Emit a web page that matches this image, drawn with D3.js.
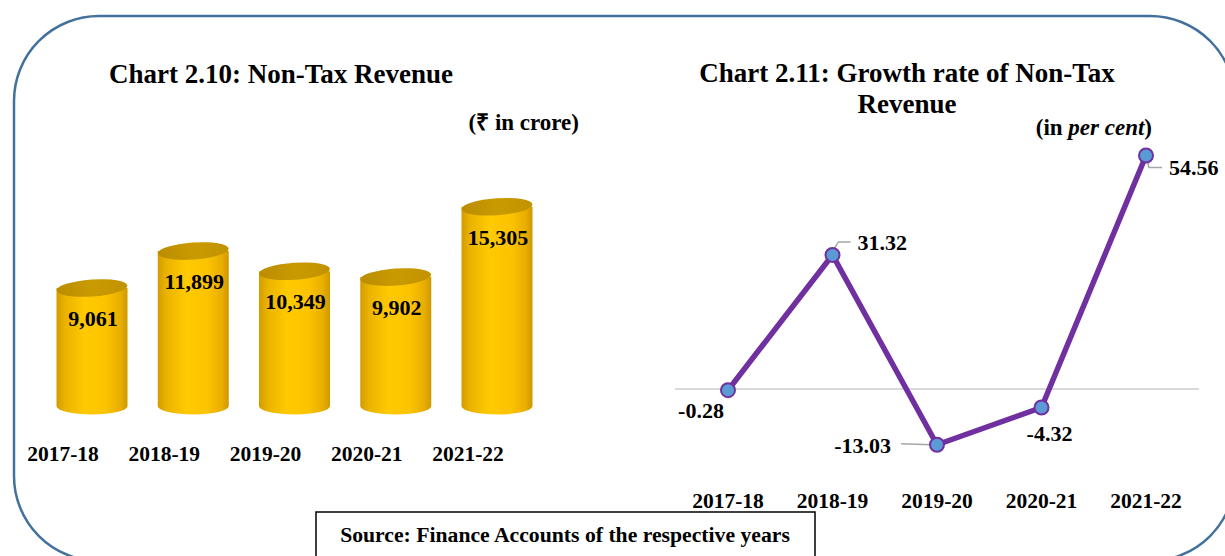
<!DOCTYPE html>
<html lang="en">
<head>
<meta charset="UTF-8">
<title>Non-Tax Revenue</title>
<script src="https://cdnjs.cloudflare.com/ajax/libs/d3/7.8.5/d3.min.js"></script>
<style>
	body { margin: 0; background: #fff; }
	svg text { font-family: "Liberation Serif", "Times New Roman", serif; font-weight: bold; fill: #000; }
</style>
</head>
<body>
<div id="container"></div>
<script>
	// data
	var years = ["2017-18", "2018-19", "2019-20", "2020-21", "2021-22"];
	var revenue = [9061, 11899, 10349, 9902, 15305];       // ₹ in crore
	var growth = [-0.28, 31.32, -13.03, -4.32, 54.56];     // per cent

	var width = 1225, height = 556;
	var svg = d3.select("#container").append("svg")
		.attr("width", width)
		.attr("height", height);

	// outer rounded frame
	svg.append("rect")
		.attr("x", 14).attr("y", 16)
		.attr("width", 1221).attr("height", 545)
		.attr("rx", 85).attr("ry", 85)
		.attr("fill", "none")
		.attr("stroke", "#41719c")
		.attr("stroke-width", 2.5);

	// ---------- Chart 2.10 : cylinders ----------
	var defs = svg.append("defs");
	var g1 = defs.append("linearGradient").attr("id", "cylBody")
		.attr("x1", "0%").attr("x2", "100%").attr("y1", "0%").attr("y2", "0%");
	[[0, "#d29c00"], [0.12, "#eab300"], [0.4, "#ffca00"], [0.7, "#fcc300"], [0.9, "#e8ae00"], [1, "#cf9800"]]
		.forEach(function(s){ g1.append("stop").attr("offset", s[0]).attr("stop-color", s[1]); });
	var g2 = defs.append("linearGradient").attr("id", "cylTop")
		.attr("x1", "0%").attr("x2", "100%").attr("y1", "0%").attr("y2", "0%");
	[[0, "#bb8c00"], [0.5, "#c99a00"], [1, "#c29300"]]
		.forEach(function(s){ g2.append("stop").attr("offset", s[0]).attr("stop-color", s[1]); });

	var x1 = d3.scalePoint().domain(years).range([92, 497]);
	var y1 = d3.scaleLinear().domain([0, 16000]).range([406, 406 - 16000 * 0.01302]);
	var rx = 35.5, ry = 8.5;

	svg.append("text")
		.attr("x", 281).attr("y", 83)
		.attr("text-anchor", "middle")
		.style("font-size", "27px")
		.text("Chart 2.10: Non-Tax Revenue");

	svg.append("text")
		.attr("x", 579).attr("y", 130)
		.attr("text-anchor", "end")
		.style("font-size", "23px")
		.text("(₹ in crore)");

	var cyl = svg.append("g").selectAll("g")
		.data(years.map(function(d, i){ return { year: d, value: revenue[i] }; }))
		.enter().append("g");

	cyl.append("path")
		.attr("fill", "url(#cylBody)")
		.attr("d", function(d){
			var cx = x1(d.year), top = y1(d.value), bot = y1(0);
			return "M" + (cx - rx) + "," + top +
				"L" + (cx - rx) + "," + bot +
				"A" + rx + "," + ry + " 0 0 0 " + (cx + rx) + "," + bot +
				"L" + (cx + rx) + "," + top + "Z";
		});

	cyl.append("ellipse")
		.attr("cx", function(d){ return x1(d.year); })
		.attr("cy", function(d){ return y1(d.value); })
		.attr("rx", rx).attr("ry", ry)
		.attr("transform", function(d){ return "rotate(-4," + x1(d.year) + "," + y1(d.value) + ")"; })
		.attr("fill", "url(#cylTop)");

	cyl.append("text")
		.attr("x", function(d){ return x1(d.year) + 1; })
		.attr("y", function(d){ return y1(d.value) + 38; })
		.attr("text-anchor", "middle")
		.style("font-size", "22px")
		.text(function(d){ return d3.format(",")(d.value); });

	svg.append("g").selectAll("text")
		.data(years).enter().append("text")
		.attr("x", function(d){ return x1(d) - 29; })
		.attr("y", 461)
		.attr("text-anchor", "middle")
		.style("font-size", "21.5px")
		.text(function(d){ return d; });

	// ---------- Chart 2.11 : growth line ----------
	var x2 = d3.scalePoint().domain(years).range([728, 1146]);
	var y2 = d3.scaleLinear().domain([-20, 60]).range([389 + 20 * 4.28, 389 - 60 * 4.28]);

	var t2 = svg.append("text")
		.attr("x", 907).attr("y", 82)
		.attr("text-anchor", "middle")
		.style("font-size", "27px");
	t2.append("tspan").attr("x", 907).text("Chart 2.11: Growth rate of Non-Tax");
	t2.append("tspan").attr("x", 907).attr("dy", 31).text("Revenue");

	var unit = svg.append("text")
		.attr("x", 1152).attr("y", 135)
		.attr("text-anchor", "end")
		.style("font-size", "23px");
	unit.append("tspan").text("(in ");
	unit.append("tspan").style("font-style", "italic").text("per cent");
	unit.append("tspan").text(")");

	// zero line
	svg.append("line")
		.attr("x1", 675).attr("x2", 1199)
		.attr("y1", y2(0)).attr("y2", y2(0))
		.attr("stroke", "#d9d9d9")
		.attr("stroke-width", 2);

	var pts = years.map(function(d, i){ return { year: d, value: growth[i] }; });

	svg.append("path")
		.datum(pts)
		.attr("fill", "none")
		.attr("stroke", "#7030a0")
		.attr("stroke-width", 5.5)
		.attr("stroke-linejoin", "round")
		.attr("d", d3.line()
			.x(function(d){ return x2(d.year); })
			.y(function(d){ return y2(d.value); }));

	// label placement: [dx, dy, anchor, leader points relative to marker]
	var labelPlace = [
		[-27, 28, "middle", null],
		[25, -5, "start", [[2, -7], [6, -13], [18, -13]]],
		[-46, 8, "end", [[-36, -1], [-5, 0]]],
		[8, 34, "middle", null],
		[23, 20, "start", [[1, 5], [3, 12], [16, 12]]]
	];

	var leader = d3.line();
	pts.forEach(function(d, i){
		var p = labelPlace[i];
		if (p[3]) {
			svg.append("path")
				.attr("fill", "none")
				.attr("stroke", "#a6a6a6")
				.attr("stroke-width", 1.5)
				.attr("d", leader(p[3].map(function(q){ return [x2(d.year) + q[0], y2(d.value) + q[1]]; })));
		}
	});

	svg.append("g").selectAll("circle")
		.data(pts).enter().append("circle")
		.attr("cx", function(d){ return x2(d.year); })
		.attr("cy", function(d){ return y2(d.value); })
		.attr("r", 7)
		.attr("fill", "#5b9bd5")
		.attr("stroke", "#7030a0")
		.attr("stroke-width", 2);

	svg.append("g").selectAll("text")
		.data(pts).enter().append("text")
		.attr("x", function(d, i){ return x2(d.year) + labelPlace[i][0]; })
		.attr("y", function(d, i){ return y2(d.value) + labelPlace[i][1]; })
		.attr("text-anchor", function(d, i){ return labelPlace[i][2]; })
		.style("font-size", "22px")
		.text(function(d){ return d.value.toFixed(2); });

	svg.append("g").selectAll("text")
		.data(years).enter().append("text")
		.attr("x", function(d){ return x2(d); })
		.attr("y", 508)
		.attr("text-anchor", "middle")
		.style("font-size", "21.5px")
		.text(function(d){ return d; });

	// source box
	svg.append("rect")
		.attr("x", 316).attr("y", 512)
		.attr("width", 499).attr("height", 60)
		.attr("fill", "#fff")
		.attr("stroke", "#000")
		.attr("stroke-width", 1.5);

	svg.append("text")
		.attr("x", 565).attr("y", 542)
		.attr("text-anchor", "middle")
		.style("font-size", "21.7px")
		.text("Source: Finance Accounts of the respective years");
</script>
</body>
</html>
